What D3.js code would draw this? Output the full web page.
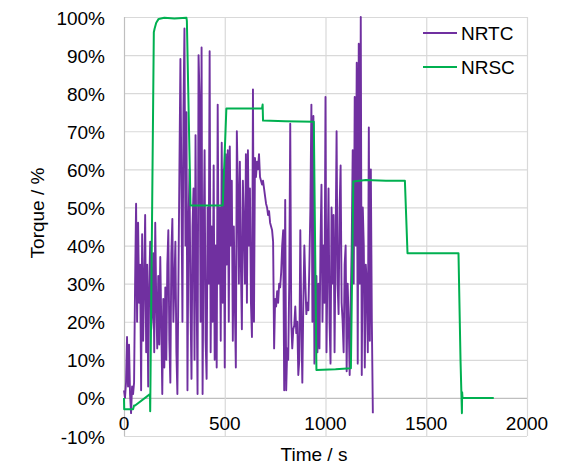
<!DOCTYPE html>
<html>
<head>
<meta charset="utf-8">
<script src="https://cdn.jsdelivr.net/npm/d3@7"></script>
<style>
  body { margin: 0; background: #ffffff; }
  svg { font-family: "Liberation Sans", Arial, sans-serif; }
</style>
</head>
<body>
<svg id="chart" width="572" height="465"></svg>
<script>
// time axis ticks and torque ticks
var xTicks = [ 0, 500, 1000, 1500, 2000 ];
var yTicks = [ -10, 0, 10, 20, 30, 40, 50, 60, 70, 80, 90, 100 ];
var seriesNames = [ "NRTC", "NRSC" ];
var seriesColors = [ "#7030a0", "#00b050" ];

// NRTC torque (%), sampled every 5 s from t = 0
var nrtcStep = 5;
var nrtcTorque = [
  2, 0, 4, 16, 3, 14, 1, -4, 3, 1,
  4, 30, 51, 20, 46, 25, 35, 2, 43, 15,
  30, 48, 12, 35, 3, 28, 41, 18, 22, 38,
  12, 46, 25, 13, 32, 14, 37, 20, 1, 26,
  8, 29, 10, 35, 44, 15, 4, 38, 47, 20,
  30, 41, 12, 1, 30, 60, 89, 55, 20, 75,
  97, 40, 75, 2, 45, 60, 25, 5, 45, 55,
  10, 69, 30, 1, 90, 79, 20, 92, 1, 40,
  65, 15, 5, 50, 30, 91, 12, 45, 20, 61,
  10, 40, 8, 77, 30, 50, 15, 67, 25, 60,
  8, 64, 35, 65, 20, 66, 40, 57, 15, 45,
  25, 8, 70, 55, 30, 62, 35, 18, 57, 45,
  30, 64, 25, 65, 40, 55, 25, 16, 81, 20,
  63, 58, 62, 60, 64, 58, 57, 56, 57, 55,
  53, 51, 50, 48, 49, 46, 45, 44, 41, 13,
  26, 24, 28, 25, 30, 29, 33, 40, 44, 2,
  52, 2, 13, 10, 30, 72, 20, 13, 18, 19,
  24, 17, 20, 6, 10, 44, 20, 4, 25, 40,
  30, 22, 25, 23, 35, 50, 77, 20, 74, 9,
  23, 32, 12, 30, 13, 40, 56, 20, 40, 25,
  79, 12, 35, 55, 20, 9, 50, 30, 48, 12,
  40, 70, 30, 22, 50, 61, 25, 20, 12, 35,
  40, 7, 30, 20, 6, 25, 40, 65, 30, 79,
  40, 88, 9, 93, 30, 100, 6, 50, 40, 8,
  35, 30, 12, 71, 15, 60, 20, -4
];

// NRSC modes: time (s) and torque (%)
var nrscTime = [ 0, 1, 45, 50, 55, 129, 130, 148, 152, 160, 172, 200, 250, 310, 312, 330, 400, 490, 508, 600, 685, 688, 690, 800, 942, 955, 1050, 1126, 1138, 1200, 1300, 1394, 1407, 1500, 1660, 1670, 1677, 1678, 1680, 1835 ];
var nrscTorque = [ 0, -3, -3, -2, -2, 1, -3.5, 96, 97, 98.5, 99.5, 99.8, 99.6, 99.8, 99, 50.5, 50.5, 50.5, 76, 76, 76, 77, 72.8, 72.6, 72.5, 7.3, 7.5, 7.8, 56.8, 57.2, 57, 57, 38, 38, 38, 10, -4, 1.5, 0, 0 ];

var MARGIN = { left: 124, right: 45, top: 17, bottom: 29 };
var width = 572, height = 465;

var svg = d3.select( "#chart" );

var x = d3.scaleLinear()
  .domain( [ 0, 2000 ] )
  .range( [ MARGIN.left, width - MARGIN.right ] );

var y = d3.scaleLinear()
  .domain( [ -10, 100 ] )
  .range( [ height - MARGIN.bottom, MARGIN.top ] );

// grid
svg.append( "g" )
  .selectAll( "line" )
  .data( yTicks )
  .enter()
  .append( "line" )
  .attr( "x1", x( 0 ) )
  .attr( "x2", x( 2000 ) )
  .attr( "y1", function( d ){ return y( d ) + 0.5; } )
  .attr( "y2", function( d ){ return y( d ) + 0.5; } )
  .attr( "stroke", function( d ){ return d == 0 ? "#bfbfbf" : "#d9d9d9"; } )
  .attr( "stroke-width", 1.2 );

svg.append( "g" )
  .selectAll( "line" )
  .data( xTicks )
  .enter()
  .append( "line" )
  .attr( "x1", function( d ){ return x( d ) + 0.5; } )
  .attr( "x2", function( d ){ return x( d ) + 0.5; } )
  .attr( "y1", y( 100 ) )
  .attr( "y2", y( -10 ) )
  .attr( "stroke", function( d ){ return d == 0 ? "#bfbfbf" : "#d9d9d9"; } )
  .attr( "stroke-width", 1.2 );

// y tick labels
svg.append( "g" )
  .selectAll( "text" )
  .data( yTicks )
  .enter()
  .append( "text" )
  .attr( "x", 105 )
  .attr( "y", function( d ){ return y( d ) + 7.5; } )
  .attr( "text-anchor", "end" )
  .style( "font-size", "19px" )
  .style( "fill", "#000" )
  .text( function( d ){ return d + "%"; } );

// x tick labels
svg.append( "g" )
  .selectAll( "text" )
  .data( xTicks )
  .enter()
  .append( "text" )
  .attr( "x", function( d ){ return x( d ); } )
  .attr( "y", 430 )
  .attr( "text-anchor", "middle" )
  .style( "font-size", "19px" )
  .style( "fill", "#000" )
  .text( function( d ){ return d; } );

// axis titles
svg.append( "text" )
  .attr( "x", 314 )
  .attr( "y", 461 )
  .attr( "text-anchor", "middle" )
  .style( "font-size", "19px" )
  .text( "Time / s" );

svg.append( "text" )
  .attr( "transform", "translate(44,213) rotate(-90)" )
  .attr( "text-anchor", "middle" )
  .style( "font-size", "19px" )
  .text( "Torque / %" );

// series
var nrtcData = nrtcTorque.map( function( v, i ){ return [ i * nrtcStep, v ]; } );
var nrscData = nrscTime.map( function( t, i ){ return [ t, nrscTorque[ i ] ]; } );

var line = d3.line()
  .x( function( d ){ return x( d[ 0 ] ); } )
  .y( function( d ){ return y( d[ 1 ] ); } );

svg.append( "path" )
  .datum( nrtcData )
  .attr( "d", line )
  .attr( "fill", "none" )
  .attr( "stroke", seriesColors[ 0 ] )
  .attr( "stroke-width", 1.9 )
  .attr( "stroke-linejoin", "round" );

svg.append( "path" )
  .datum( nrscData )
  .attr( "d", line )
  .attr( "fill", "none" )
  .attr( "stroke", seriesColors[ 1 ] )
  .attr( "stroke-width", 2 )
  .attr( "stroke-linejoin", "round" );

// legend
var legend = svg.append( "g" )
  .selectAll( "g" )
  .data( seriesNames )
  .enter()
  .append( "g" )
  .attr( "transform", function( d, i ){ return "translate(423," + ( 33 + i * 34 ) + ")"; } );

legend.append( "line" )
  .attr( "x1", 0 )
  .attr( "x2", 34 )
  .attr( "stroke", function( d, i ){ return seriesColors[ i ]; } )
  .attr( "stroke-width", 2 );

legend.append( "text" )
  .attr( "x", 38 )
  .attr( "y", 7 )
  .style( "font-size", "19px" )
  .text( function( d ){ return d; } );
</script>
</body>
</html>
